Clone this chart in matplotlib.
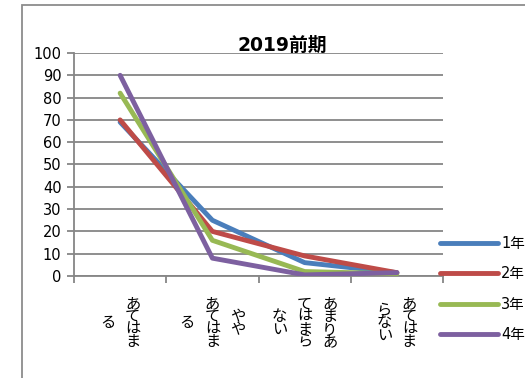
import matplotlib
matplotlib.use('Agg')
import matplotlib.pyplot as plt
from matplotlib.patches import Rectangle

plt.rcParams['font.family'] = ['DejaVu Sans', 'Noto Sans CJK JP']

# category labels, already broken into the vertical columns (read right to left)
categories = ["あてはまる", "ややあてはまる", "あまりあてはまらない", "あてはまらない"]
cat_columns = [["あてはま", "る"],
               ["やや", "あてはま", "る"],
               ["あまりあ", "てはまら", "ない"],
               ["あてはま", "らない"]]

series_names = ["1年", "2年", "3年", "4年"]
y1 = [69, 25, 6, 1.5]
y2 = [70, 20, 9, 1.5]
y3 = [82, 16, 2, 1]
y4 = [90, 8, 0.5, 1.5]
colors = ["#4A7EBB", "#BE4B48", "#98B954", "#7D60A0"]

W, H = 525, 378
fig = plt.figure(figsize=(W / 100, H / 100), dpi=100)
ax = fig.add_axes([74 / W, 1 - 276 / H, (443 - 74) / W, (276 - 53) / H])

# chart area border (runs off the right and bottom edges)
fig.patches.append(Rectangle((22 / W, -0.1), 1.0, 1 - 5 / H + 0.1, transform=fig.transFigure,
                             fill=False, edgecolor="#8c8c8c", lw=1.3, clip_on=False))

x = list(range(len(categories)))
for ys, name, c in zip([y1, y2, y3, y4], series_names, colors):
    ax.plot(x, ys, color=c, lw=3.5, solid_capstyle='round', solid_joinstyle='round', label=name, zorder=3)

ax.set_xlim(-0.5, len(categories) - 0.5)
ax.set_ylim(0, 100)
ax.set_yticks(range(0, 101, 10))
ax.set_xticks([i - 0.5 for i in range(len(categories) + 1)])
ax.set_xticklabels([])
ax.grid(axis='y', color='#868686', lw=1.3)
ax.set_axisbelow(True)
for s in ['top', 'right']:
    ax.spines[s].set_visible(False)
for s in ['left', 'bottom']:
    ax.spines[s].set_color('#868686')
    ax.spines[s].set_linewidth(1.3)
ax.tick_params(axis='both', color='#868686', width=1.3, length=5, labelsize=10.5)
ax.tick_params(axis='y', pad=4)

# vertical japanese labels
for i, cols in enumerate(cat_columns):
    n = len(cols)
    for j, col in enumerate(cols):
        dx = ((n - 1) / 2 - j) * 25
        ax.annotate("\n".join(col), xy=(i, 0), xycoords=('data', 'axes fraction'),
                    xytext=(dx, -47), textcoords='offset pixels',
                    ha='center', va='center', fontsize=11, linespacing=0.8)

fig.text(282 / W, 1 - 45 / H, "2019前期", ha='center', va='center', fontsize=13.5, fontweight='bold')

ax.legend(loc='upper left', bbox_to_anchor=(440 / W, 1 - 236 / H), bbox_transform=fig.transFigure,
          frameon=False, fontsize=10.5, handlelength=4.0, handletextpad=0.2, labelspacing=1.05,
          borderaxespad=0, borderpad=0)

fig.savefig("out.png", dpi=100)
